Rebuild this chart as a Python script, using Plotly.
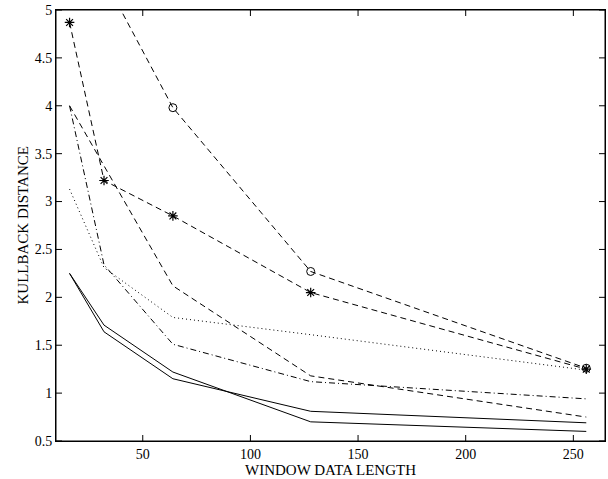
import plotly.graph_objects as go

window_len = [16, 32, 64, 128, 256]
circle_len = [32, 64, 128, 256]

circle_dashed = [5.33, 3.98, 2.27, 1.26]
star_dashed = [4.87, 3.22, 2.85, 2.05, 1.25]
plain_dashed = [4.00, 3.37, 2.12, 1.18, 0.75]
dash_dot = [4.00, 2.34, 1.51, 1.12, 0.94]
dotted = [3.13, 2.31, 1.79, 1.61, 1.24]
solid_a = [2.25, 1.71, 1.22, 0.70, 0.60]
solid_b = [2.25, 1.64, 1.15, 0.81, 0.69]

x_ticks = [50, 100, 150, 200, 250]
y_ticks = [0.5, 1, 1.5, 2, 2.5, 3, 3.5, 4, 4.5, 5]
y_tick_text = ["0.5", "1", "1.5", "2", "2.5", "3", "3.5", "4", "4.5", "5"]

BLACK = "black"
W, H = 608, 479
M = dict(l=56, r=3, t=10, b=38)
TICK = 6  # tick length in px
fx = TICK / (W - M["l"] - M["r"])
fy = TICK / (H - M["t"] - M["b"])

fig = go.Figure()

def add(x, y, dash, marker=None):
    kw = dict(mode="lines")
    if marker:
        kw["mode"] = "lines+markers"
        kw["marker"] = marker
    fig.add_trace(go.Scatter(x=x, y=y, line=dict(color=BLACK, width=1, dash=dash),
                             showlegend=False, hoverinfo="skip", **kw))

add(window_len, solid_a, "solid")
add(window_len, solid_b, "solid")
add(window_len, dash_dot, "6px,3px,1px,3px")
add(window_len, dotted, "1px,3px")
add(window_len, plain_dashed, "6px,4px")
add(window_len, star_dashed, "6px,4px",
    dict(symbol="asterisk-open", size=8, color=BLACK, line=dict(color=BLACK, width=1.2)))
add(circle_len, circle_dashed, "6px,4px",
    dict(symbol="circle-open", size=8, color=BLACK, line=dict(color=BLACK, width=1)))

shapes = [dict(type="rect", xref="paper", yref="paper", x0=0, y0=0, x1=1, y1=1,
               line=dict(color=BLACK, width=1), layer="above")]
tick_line = dict(color=BLACK, width=1)
for t in x_ticks:
    shapes.append(dict(type="line", xref="x", yref="paper", x0=t, x1=t, y0=0, y1=fy,
                       line=tick_line, layer="above"))
    shapes.append(dict(type="line", xref="x", yref="paper", x0=t, x1=t, y0=1, y1=1 - fy,
                       line=tick_line, layer="above"))
for t in y_ticks:
    shapes.append(dict(type="line", xref="paper", yref="y", x0=0, x1=fx, y0=t, y1=t,
                       line=tick_line, layer="above"))
    shapes.append(dict(type="line", xref="paper", yref="y", x0=1, x1=1 - fx, y0=t, y1=t,
                       line=tick_line, layer="above"))

font = "Liberation Serif"
fig.update_layout(
    width=W, height=H,
    margin=M,
    paper_bgcolor="white", plot_bgcolor="white",
    font=dict(family=font, size=14, color=BLACK),
    shapes=shapes,
    annotations=[
        dict(text="WINDOW DATA LENGTH", xref="paper", yref="paper", x=0.5, y=0,
             xanchor="center", yanchor="middle", yshift=-29, showarrow=False,
             font=dict(family=font, size=15, color=BLACK)),
        dict(text="KULLBACK DISTANCE", xref="paper", yref="paper", x=0, y=0.5,
             xanchor="center", yanchor="middle", xshift=-34, textangle=-90, showarrow=False,
             font=dict(family=font, size=15, color=BLACK)),
    ],
)
fig.update_xaxes(
    range=[9.7, 264.7], tickmode="array", tickvals=x_ticks, ticks="",
    showline=True, linecolor=BLACK, linewidth=1, mirror=True, showgrid=False, zeroline=False,
    tickfont=dict(family=font, size=14),
)
fig.update_yaxes(
    range=[0.5, 5], tickmode="array", tickvals=y_ticks, ticktext=y_tick_text, ticks="",
    showline=True, linecolor=BLACK, linewidth=1, mirror=True, showgrid=False, zeroline=False,
    tickfont=dict(family=font, size=14),
)

fig.write_html("out.html", config={"displayModeBar": False},
               post_script="document.body.style.margin='0';")
